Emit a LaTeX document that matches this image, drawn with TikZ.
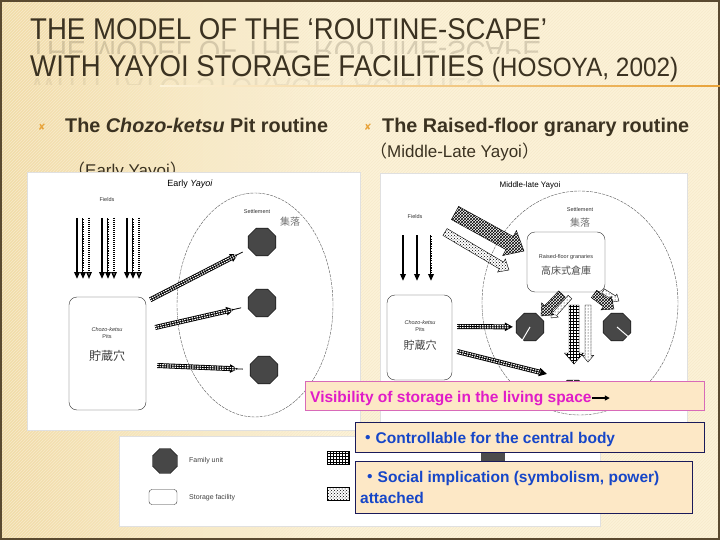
\documentclass[tikz,border=0pt]{standalone}
\usepackage{fontspec}
\usepackage{graphicx}
\setmainfont{Liberation Sans}
\newfontfamily\titlefont[FakeStretch=0.92]{Liberation Sans}
\newfontfamily\boxfont{Liberation Sans}
\newfontfamily\cjk{Noto Sans CJK JP}
\newfontfamily\symfont{DejaVu Sans}
\usetikzlibrary{shapes.geometric, arrows.meta, positioning, calc, patterns}

\definecolor{slidebg}{HTML}{FCF2D8}
\definecolor{bgtan}{HTML}{F1DCA8}
\definecolor{framebrown}{HTML}{5A4A30}
\definecolor{titlebrown}{HTML}{3B3221}
\definecolor{bulletorange}{HTML}{E8A33A}
\definecolor{visipink}{HTML}{E01CC8}
\definecolor{visiframe}{HTML}{D86AB8}
\definecolor{boxfill}{HTML}{FDE8C6}
\definecolor{pointblue}{HTML}{1646C8}
\definecolor{pointframe}{HTML}{1A1A5A}

\tikzset{
  panel/.style     = {fill=white, draw=black!12},
  family/.style    = {regular polygon, regular polygon sides=8, draw=black,
                      fill=black!72, minimum size=30pt, inner sep=0pt},
  facility/.style  = {draw=black!80, rounded corners=8pt, inner sep=0pt},
  settle/.style    = {ellipse, draw=black!65, line width=0.4pt,
                      dash pattern=on 3pt off 1pt, inner sep=0pt},
  tinylabel/.style = {font=\fontsize{5.5}{6.5}\selectfont, text=black!80,
                      inner sep=0pt, align=center},
  cjklabel/.style  = {font=\cjk\fontsize{10}{11}\selectfont, text=black!55,
                      inner sep=0pt},
  fieldsolid/.style  = {line width=2.2pt, -{Triangle[length=7pt,width=5.5pt]}},
  fieldstripe/.style = {fieldsolid, postaction={draw=white, line width=0.8pt,
                        dash pattern=on 1.2pt off 1.2pt, shorten >=7pt, -}},
  fielddots/.style   = {line width=1.4pt, dash pattern=on 1pt off 1pt,
                        -{Triangle[open, length=7pt, width=5.5pt]}},
  bundle/.style    = {line width=5pt, -{Triangle[length=8pt,width=8pt]},
                      postaction={draw=white, line width=3.2pt,
                        dash pattern=on 1.5pt off 1pt, shorten >=7pt, -},
                      postaction={draw=black, line width=0.8pt, shorten >=7pt, -}},
  visbox/.style    = {fill=boxfill, draw=visiframe, line width=0.8pt},
  pointbox/.style  = {fill=boxfill, draw=pointframe, line width=0.9pt},
  boxtext/.style   = {font=\boxfont\bfseries\fontsize{15.5}{22}\selectfont,
                      inner sep=0pt, anchor=base west},
  headtext/.style  = {font=\bfseries\fontsize{19.8}{20}\selectfont, text=titlebrown,
                      inner sep=0pt, anchor=base west},
  subtext/.style   = {font=\fontsize{17}{17}\selectfont, text=titlebrown,
                      inner sep=0pt, anchor=base west}
}

% wide outlined arrow: options, from, to, half width
\newcommand\fatarrow[4][]{%
  \coordinate (fa-h) at ($(#3)!2.2*#4!(#2)$);
  \filldraw[#1] ($(#2)!#4!90:(#3)$) -- ($(fa-h)!#4!-90:(#2)$)
    -- ($(fa-h)!1.9*#4!-90:(#2)$) -- (#3) -- ($(fa-h)!1.9*#4!90:(#2)$)
    -- ($(fa-h)!#4!90:(#2)$) -- ($(#2)!#4!-90:(#3)$) -- cycle;
}

\begin{document}
\begin{tikzpicture}[x=1pt, y=-1pt]
% Slide background
\useasboundingbox (0,0) rectangle (720,540);
\fill[slidebg] (0,0) rectangle (720,540);
\shade[left color=bgtan, right color=slidebg] (0,0) rectangle (330,540);
\fill[pattern=north east lines, pattern color=bgtan!60] (0,0) rectangle (720,540);
\draw[framebrown, line width=1.6pt] (0.8,0.8) rectangle (719.2,539.2);

% Title with its faint reflection
\begin{scope}
  \clip (0,41) rectangle (720,54);
  \node[anchor=base west, inner sep=0, font=\titlefont\fontsize{30}{30}\selectfont,
        text=titlebrown, opacity=0.18] at (30,42)
    {\scalebox{1}[-1]{THE MODEL OF THE ‘ROUTINE-SCAPE’}};
\end{scope}
\begin{scope}
  \clip (0,78) rectangle (720,85);
  \node[anchor=base west, inner sep=0, font=\titlefont\fontsize{30}{30}\selectfont,
        text=titlebrown, opacity=0.07] at (30,79)
    {\scalebox{1}[-1]{WITH YAYOI STORAGE FACILITIES}};
\end{scope}
\node[anchor=base west, inner sep=0, font=\titlefont\fontsize{30}{30}\selectfont,
      text=titlebrown] (title1) at (30,40) {THE MODEL OF THE ‘ROUTINE-SCAPE’};
\node[anchor=base west, inner sep=0, font=\titlefont\fontsize{30}{30}\selectfont,
      text=titlebrown] (title2) at (30,77)
  {WITH YAYOI STORAGE FACILITIES {\fontsize{26.5}{26.5}\selectfont (HOSOYA, 2002)}};
\shade[left color=slidebg, right color=bulletorange] (160,85.4) rectangle (720,86.6);

% Bullets
\node[font=\symfont\fontsize{9}{9}\selectfont, text=bulletorange] (mark1) at (42,127) {✘};
\node[headtext] (head1) at (65,133) {The \textit{Chozo-ketsu} Pit routine};
\node[font=\symfont\fontsize{9}{9}\selectfont, text=bulletorange] (mark2) at (368,127) {✘};
\node[headtext] (head2) at (382,133) {The Raised-floor granary routine};
\node[subtext] (sub2) at (370,158) {{\cjk （}Middle-Late Yayoi{\cjk ）}};
\node[subtext] (sub1) at (68,177) {{\cjk （}Early Yayoi{\cjk ）}};

% Panels
\draw[panel] (27,172) rectangle (360,430);
\draw[panel] (380,173) rectangle (687,422);
\draw[panel] (119,436) rectangle (600,526);

% Early Yayoi diagram
\node[inner sep=0, font=\fontsize{9}{9}\selectfont] (early) at (190,184) {Early \textit{Yayoi}};
\node[tinylabel] (fields1) at (107,200) {Fields};
\foreach \x in {83,108,133} {
  \draw[fieldsolid] (\x-6,218) -- (\x-6,279);
  \draw[fieldstripe] (\x,218) -- (\x,279);
  \draw[fielddots] (\x+6,218) -- (\x+6,279);
}
\node[settle, minimum width=156pt, minimum height=224pt] (settle1) at (255,305) {};
\node[tinylabel] (settle1lab) at (257,212) {Settlement};
\node[cjklabel] (settle1cjk) at (290,222) {集落};
\node[family] (fam1a) at (262,242) {};
\node[family] (fam1b) at (262,303) {};
\node[family] (fam1c) at (264,370) {};
\node[facility, minimum width=77pt, minimum height=113pt] (pit1) at (107.5,353.5) {};
\node[tinylabel] (pit1lab) at (107,333) {\textit{Chozo-ketsu}\\Pits};
\node[cjklabel, text=black!75, font=\cjk\fontsize{12}{12}\selectfont] (pit1cjk) at (107,356) {貯蔵穴};
\coordinate (out1a) at ($(pit1.north east)+(4,3)$);
\coordinate (out1b) at ($(pit1.east)+(9,-26)$);
\coordinate (out1c) at ($(pit1.east)+(11,12)$);
\draw[bundle, shorten >=12pt] (out1a) -- (fam1a);
\draw[bundle, shorten >=14pt] (out1b) -- (fam1b);
\draw[bundle, shorten >=12pt] (out1c) -- (fam1c);

% Middle-late Yayoi diagram
\node[inner sep=0, font=\fontsize{8}{8}\selectfont] (late) at (530,185) {Middle-late Yayoi};
\node[tinylabel] (fields2) at (415,217) {Fields};
\draw[fieldsolid] (403,235) -- (403,281);
\draw[fieldsolid] (417,235) -- (417,281);
\draw[fieldstripe] (431,235) -- (431,281);
\node[settle, minimum width=196pt, minimum height=224pt] (settle2) at (580,303) {};
\node[tinylabel] (settle2lab) at (580,210) {Settlement};
\node[cjklabel] (settle2cjk) at (580,223) {集落};
\node[facility, minimum width=78pt, minimum height=60pt] (gran) at (566,262) {};
\node[tinylabel] (granlab) at (566,257) {Raised-floor granaries};
\node[cjklabel, text=black!70] (grancjk) at (566,271) {高床式倉庫};
\fatarrow[pattern=crosshatch, draw=black]{455,213}{524,251}{7.5pt}
\fatarrow[pattern=crosshatch dots, draw=black]{445,232}{509,270}{4pt}
\node[facility, minimum width=65pt, minimum height=85pt] (pit2) at (419.5,337.5) {};
\node[tinylabel] (pit2lab) at (420,326) {\textit{Chozo-ketsu}\\Pits};
\node[cjklabel, text=black!75, font=\cjk\fontsize{11}{11}\selectfont] (pit2cjk) at (420,345) {貯蔵穴};
\node[family] (fam2a) at (530,327) {};
\node[family] (fam2b) at (617,327) {};
\node[family] (fam2c) at (573,394) {};
\fatarrow[pattern=crosshatch, draw=black]{562,294}{541,316}{4.5pt}
\fatarrow[pattern=dots, draw=black]{570,297}{551,318}{2.5pt}
\fatarrow[pattern=crosshatch, draw=black]{594,294}{614,309}{4.5pt}
\fatarrow[pattern=dots, draw=black]{603,291}{619,301}{2.5pt}
\fatarrow[pattern=grid, draw=black]{574,305}{574,364}{5pt}
\fatarrow[pattern=dots, draw=black]{588,305}{588,362}{3pt}
\draw[white, line width=1pt, -{Triangle[length=4pt,width=4pt]}] (fam2a.center) -- ++(-10,17);
\draw[white, line width=1pt, -{Triangle[length=4pt,width=4pt]}] (fam2b.center) -- ++(14,12);
\draw[white, line width=0.8pt] (fam2c.center) -- (fam2c.north);
\coordinate (out2a) at ($(pit2.east)+(5,-11)$);
\coordinate (out2b) at ($(pit2.east)+(5,14)$);
\coordinate (in2b) at (547,374);
\draw[bundle, shorten >=3pt] (out2a) -- (fam2a);
\draw[bundle] (out2b) -- (in2b);

% Legend
\node[family, minimum size=27pt] (legfam) at (165,461) {};
\node[anchor=west, inner sep=0, font=\fontsize{7}{7}\selectfont, text=black!75] (legfamlab) at (189,461) {Family unit};
\node[facility, rounded corners=3pt, minimum width=28pt, minimum height=15pt] (legfac) at (163,497) {};
\node[anchor=west, inner sep=0, font=\fontsize{7}{7}\selectfont, text=black!75] (legfaclab) at (189,498) {Storage facility};
\node[draw, pattern=grid, minimum width=22pt, minimum height=13pt, inner sep=0] (legrice) at (338,458) {};
\node[draw, pattern=crosshatch dots, minimum width=22pt, minimum height=13pt, inner sep=0] (legmix) at (338,494) {};
\node[fill=black!70, minimum width=24pt, minimum height=12pt, inner sep=0] (legmillet) at (493,459) {};

% Text boxes over the pictures
\node[visbox, anchor=north west, minimum width=399pt, minimum height=29pt] (visframe) at (305,381) {};
\node[boxtext, text=visipink] (vistext) at (310,402) {Visibility of storage in the living space};
\coordinate[right=18pt of vistext.east] (visarrow);
\draw[line width=1.8pt, -{Triangle[length=5pt,width=5pt]}] (vistext.east) -- (visarrow);
\node[pointbox, anchor=north west, minimum width=349pt, minimum height=30pt] (ctrlframe) at (355,422) {};
\node[boxtext, text=pointblue] (ctrltext) at (360,443) {{\cjk ・}Controllable for the central body};
\node[pointbox, anchor=north west, minimum width=337pt, minimum height=52pt] (socframe) at (355,461) {};
\node[boxtext, text=pointblue] (soctext1) at (362,482) {{\cjk ・}Social implication (symbolism, power)};
\node[boxtext, text=pointblue] (soctext2) at (360,503) {attached};
\end{tikzpicture}
\end{document}
